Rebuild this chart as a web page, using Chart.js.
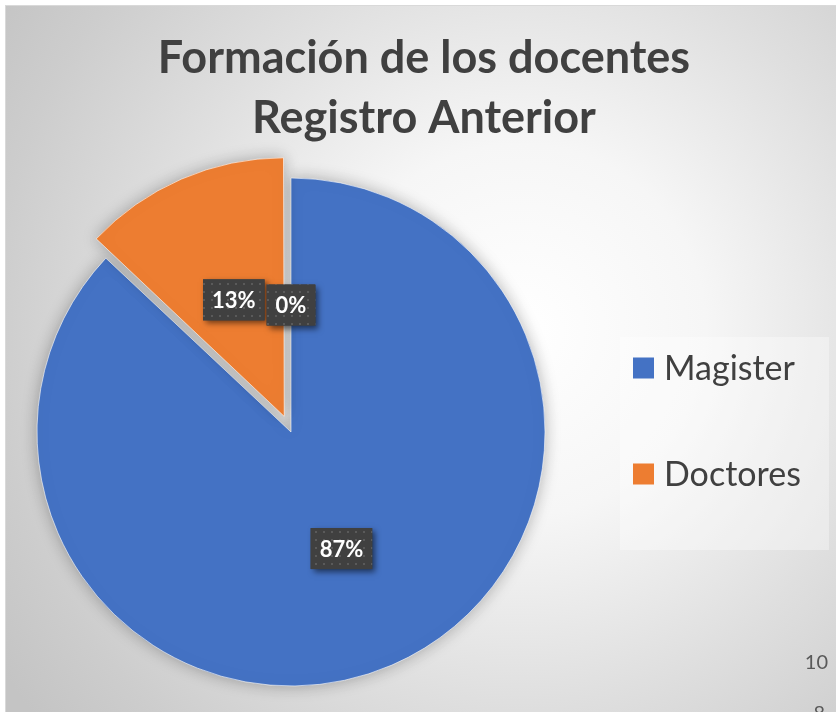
<!DOCTYPE html>
<html>
<head>
<meta charset="utf-8">
<script src="https://cdn.jsdelivr.net/npm/chart.js@4"></script>
<style>
  html, body { margin: 0; padding: 0; background: #fff; }
  #wrap { width: 836px; height: 712px; }
</style>
</head>
<body>
<div id="wrap"><canvas id="graficoPie" width="836" height="712"></canvas></div>
<script>
// Datos del gráfico
const categorias = ['Magister', 'Doctores', ''];
const valores = [87, 13, 0];
const colores = ['#4472C4', '#ED7D31', '#A5A5A5'];
const separacion = [0, 68, 0]; // el sector de doctores va separado
const tituloLineas = ['Formación de los docentes', 'Registro Anterior'];
const numerosPagina = ['10', '8'];

const FUENTE = "Lato, 'Open Sans', 'DejaVu Sans', sans-serif";
const GRIS_TEXTO = '#404040';

// Fondo con degradado radial
const fondo = {
    id: 'fondo',
    beforeDraw(chart) {
        const ctx = chart.ctx;
        ctx.save();
        ctx.fillStyle = '#ffffff';
        ctx.fillRect(0, 0, chart.width, chart.height);
        ctx.fillStyle = '#d9d9d9';
        ctx.fillRect(5, 5, chart.width, chart.height);
        const g = ctx.createRadialGradient(520, 330, 0, 520, 330, 620);
        g.addColorStop(0, '#ffffff');
        g.addColorStop(0.3, '#f6f6f6');
        g.addColorStop(0.6, '#dfdfdf');
        g.addColorStop(0.85, '#cdcdcd');
        g.addColorStop(1, '#c4c4c4');
        ctx.fillStyle = g;
        ctx.fillRect(6, 6, chart.width, chart.height);
        ctx.restore();
    }
};

// Título centrado sobre todo el lienzo
const titulo = {
    id: 'titulo',
    afterDraw(chart) {
        const ctx = chart.ctx;
        ctx.save();
        ctx.font = "bold 45px " + FUENTE;
        ctx.fillStyle = GRIS_TEXTO;
        ctx.textAlign = 'center';
        ctx.textBaseline = 'middle';
        tituloLineas.forEach((linea, i) => {
            ctx.fillText(linea, 424, 58 + i * 60);
        });
        ctx.restore();
    }
};

// Sombra suave bajo los sectores
const sombra = {
    id: 'sombra',
    beforeDatasetsDraw(chart) {
        const ctx = chart.ctx;
        ctx.save();
        ctx.shadowColor = 'rgba(0, 0, 0, 0.28)';
        ctx.shadowBlur = 16;
        ctx.shadowOffsetX = 0;
        ctx.shadowOffsetY = 0;
    },
    afterDatasetsDraw(chart) {
        chart.ctx.restore();
    }
};

// Patrón punteado de las etiquetas
function crearPatron(ctx) {
    const c = document.createElement('canvas');
    c.width = 8; c.height = 8;
    const p = c.getContext('2d');
    p.fillStyle = '#404040';
    p.fillRect(0, 0, 8, 8);
    p.fillStyle = '#5a5a5a';
    p.fillRect(3, 3, 2, 2);
    return ctx.createPattern(c, 'repeat');
}

// Etiquetas de porcentaje
const etiquetas = {
    id: 'etiquetas',
    afterDatasetsDraw(chart) {
        const ctx = chart.ctx;
        const meta = chart.getDatasetMeta(0);
        const datos = chart.data.datasets[0].data;
        const total = datos.reduce((a, b) => a + b, 0);
        const patron = crearPatron(ctx);
        ctx.save();
        ctx.font = "bold 22px " + FUENTE;
        meta.data.forEach((arc, i) => {
            const texto = Math.round(datos[i] / total * 100) + '%';
            const medio = (arc.startAngle + arc.endAngle) / 2;
            const desplaz = (arc.options.offset || 0) / 4;
            const r = arc.outerRadius / 2 + desplaz;
            const x = arc.x + Math.cos(medio) * r;
            const y = arc.y + Math.sin(medio) * r;
            const ancho = ctx.measureText(texto).width + 18;
            const alto = 41;
            ctx.save();
            ctx.shadowColor = 'rgba(0, 0, 0, 0.55)';
            ctx.shadowBlur = 6;
            ctx.shadowOffsetX = 3;
            ctx.shadowOffsetY = 3;
            ctx.fillStyle = '#404040';
            ctx.fillRect(x - ancho / 2, y - alto / 2, ancho, alto);
            ctx.restore();
            ctx.fillStyle = patron;
            ctx.fillRect(x - ancho / 2, y - alto / 2, ancho, alto);
            ctx.fillStyle = '#ffffff';
            ctx.textAlign = 'center';
            ctx.textBaseline = 'middle';
            ctx.fillText(texto, x, y + 1);
        });
        ctx.restore();
    }
};

// Leyenda a la derecha
const leyenda = {
    id: 'leyenda',
    afterDraw(chart) {
        const ctx = chart.ctx;
        ctx.save();
        ctx.fillStyle = 'rgba(255, 255, 255, 0.35)';
        ctx.fillRect(620, 337, 209, 213);
        ctx.font = "34px " + FUENTE;
        ctx.textBaseline = 'middle';
        ctx.textAlign = 'left';
        let y = 368;
        chart.data.labels.forEach((etiqueta, i) => {
            if (!etiqueta) return;
            ctx.fillStyle = chart.data.datasets[0].backgroundColor[i];
            ctx.fillRect(633, y - 10.5, 21, 21);
            ctx.fillStyle = GRIS_TEXTO;
            ctx.fillText(etiqueta, 664, y + 1);
            y += 106;
        });
        // números de página del documento original
        ctx.font = "20px " + FUENTE;
        ctx.fillStyle = '#595959';
        ctx.textAlign = 'right';
        ctx.fillText(numerosPagina[0], 828, 663);
        ctx.fillText(numerosPagina[1], 825, 714);
        ctx.restore();
    }
};

const ctx = document.getElementById('graficoPie').getContext('2d');

new Chart(ctx, {
    type: 'pie',
    data: {
        labels: categorias,
        datasets: [{
            data: valores,
            backgroundColor: colores,
            borderColor: 'rgba(255, 255, 255, 0.6)',
            borderWidth: 1,
            offset: separacion,
            hoverOffset: 0
        }]
    },
    options: {
        responsive: false,
        animation: false,
        radius: 254,
        layout: {
            padding: { left: 27, right: 281, top: 167, bottom: 15 }
        },
        plugins: {
            legend: { display: false },
            tooltip: { enabled: false },
            title: { display: false }
        }
    },
    plugins: [fondo, sombra, etiquetas, leyenda, titulo]
});
</script>
</body>
</html>
